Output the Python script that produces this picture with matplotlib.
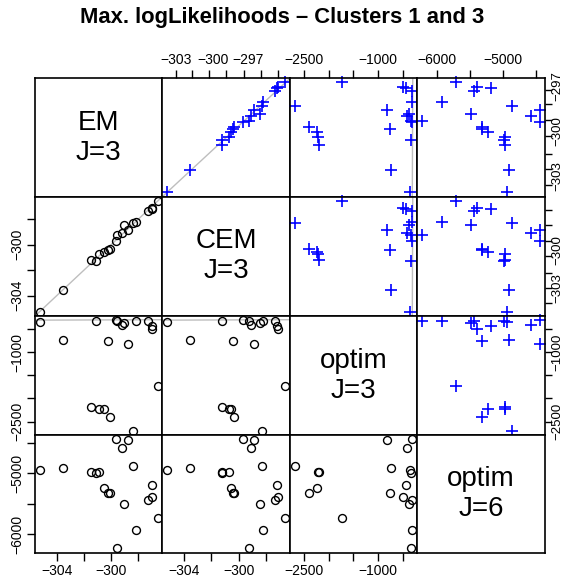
import matplotlib.pyplot as plt
import numpy as np

plt.rcParams['font.family'] = ['Liberation Sans', 'DejaVu Sans']

# max. log-likelihoods per run
em = [-305.23, -303.52, -301.48, -301.14, -300.87, -300.50, -300.25, -300.06,
      -299.67, -299.60, -299.23, -299.06, -298.76, -298.40, -298.15, -297.29,
      -297.02, -296.97, -296.56]
cem = [-305.26, -303.56, -301.20, -301.26, -300.73, -300.60, -300.42, -300.34,
       -299.71, -299.24, -299.10, -298.45, -298.85, -298.32, -298.24, -297.35,
       -297.20, -297.10, -296.62]
optim3 = [-352, -735, -2191, -324, -2228, -2235, -757, -2394,
          -303, -324, -411, -374, -829, -2697, -318, -320,
          -425, -497, -1730]
optim6 = [-4940, -4912, -4970, -4985, -4975, -5239, -5321, -5327,
          -4438, -6230, -4586, -5495, -4450, -4874, -5931, -5441,
          -5190, -5392, -5724]

names = ['EM\nJ=3', 'CEM\nJ=3', 'optim\nJ=3', 'optim\nJ=6']
data = [em, cem, optim3, optim6]
lims = [(-305.6, -296.25), (-305.6, -296.25), (-2790, -216), (-6312, -4368)]

# axis ticks / labels
ll_ticks = [-304, -302, -300, -298]
ll_labs = ['\u2212304', '', '\u2212300', '']
o3_ticks = [-2500, -2000, -1500, -1000, -500]
o3_labs = ['\u22122500', '', '', '\u22121000', '']
o6_ticks = [-6000, -5500, -5000, -4500]
o6_labs = ['\u22126000', '', '\u22125000', '']
top2_ticks = [-304.6, -303.4, -302.15, -300.9, -299.65, -298.4, -297.1]
top2_labpos = [-304.6, -301.9, -299.3]
top2_labs = ['\u2212303', '\u2212300', '\u2212297']
right1_ticks = [-297.2, -298.3, -299.55, -300.8, -302.2, -303.45, -304.7]
right1_labpos = [-296.9, -300.4, -304.0]
right1_labs = ['\u2212297', '\u2212300', '\u2212303']
right2_ticks = [-297.3, -298.5, -299.7, -300.9, -302.2, -303.4, -304.6]
right2_labpos = [-300.45, -303.4]
right2_labs = ['\u2212300', '\u2212303']

xs = [35, 162.3, 290, 416.7, 545]
ys = [78.3, 196.7, 316, 435, 553.3]
W, H = 564, 583

fig = plt.figure(figsize=(W / 100, H / 100), dpi=100)
fig.text(0.5, 1 - 18 / H, 'Max. logLikelihoods \u2013 Clusters 1 and 3',
         ha='center', va='center', fontsize=15.8, fontweight='bold')

axes = {}
for i in range(4):
    for j in range(4):
        ax = fig.add_axes([xs[j] / W, 1 - ys[i + 1] / H,
                           (xs[j + 1] - xs[j]) / W, (ys[i + 1] - ys[i]) / H])
        for s in ax.spines.values():
            s.set_linewidth(1.2)
        ax.set_xlim(lims[j])
        ax.set_ylim(lims[i])
        ax.xaxis.remove_overlapping_locs = False
        ax.yaxis.remove_overlapping_locs = False
        ax.tick_params(which='both', bottom=False, left=False, top=False, right=False,
                       labelbottom=False, labelleft=False, labeltop=False, labelright=False)
        if i == j:
            ax.text(0.5, 0.5, names[i], transform=ax.transAxes, ha='center',
                    va='center', fontsize=20)
        else:
            ax.axline((-300, -300), slope=1, color='#BEBEBE', lw=1, zorder=1)
            if j > i:
                ax.plot(data[j], data[i], ls='none', marker='+', color='blue',
                        ms=8, mew=1.2, zorder=2, clip_on=False)
            else:
                ax.plot(data[j], data[i], ls='none', marker='o', mfc='none',
                        mec='black', ms=5.7, mew=1, zorder=2, clip_on=False)
        axes[i, j] = ax

tk = dict(direction='out', length=5.5, width=1, labelsize=10, pad=2.5)


def side_axis(ax, side, ticks, labels, labpos=None, labtxt=None):
    axis = ax.xaxis if side in ('top', 'bottom') else ax.yaxis
    name = 'x' if side in ('top', 'bottom') else 'y'
    on = {side: True, 'label' + side: True}
    opts = dict(tk)
    if side == 'right':
        opts.update(length=5, pad=-0.5, labelsize=9.5)
    if labpos is None:
        axis.set_ticks(ticks, labels)
        ax.tick_params(axis=name, which='major', **on, **opts)
    else:
        axis.set_ticks(ticks, [''] * len(ticks))
        axis.set_ticks(labpos, labtxt, minor=True)
        ax.tick_params(axis=name, which='major', **{side: True}, **opts)
        minor = dict(opts, length=0, pad=opts['pad'] + opts['length'] * 0.98)
        ax.tick_params(axis=name, which='minor', **on, **minor)
    if name == 'y':
        for t in axis.get_ticklabels(which='both'):
            t.set_rotation(90)
            t.set_va('center')


side_axis(axes[3, 0], 'bottom', ll_ticks, ll_labs)
side_axis(axes[3, 1], 'bottom', ll_ticks, ll_labs)
side_axis(axes[3, 2], 'bottom', o3_ticks, o3_labs)
side_axis(axes[0, 1], 'top', top2_ticks, None, top2_labpos, top2_labs)
side_axis(axes[0, 2], 'top', o3_ticks, o3_labs)
side_axis(axes[0, 3], 'top', o6_ticks, o6_labs)
side_axis(axes[1, 0], 'left', ll_ticks, ll_labs)
side_axis(axes[2, 0], 'left', o3_ticks, o3_labs)
side_axis(axes[3, 0], 'left', o6_ticks, o6_labs)
side_axis(axes[0, 3], 'right', right1_ticks, None, right1_labpos, right1_labs)
side_axis(axes[1, 3], 'right', right2_ticks, None, right2_labpos, right2_labs)
side_axis(axes[2, 3], 'right', o3_ticks, o3_labs)

fig.savefig('out.png', dpi=100)
